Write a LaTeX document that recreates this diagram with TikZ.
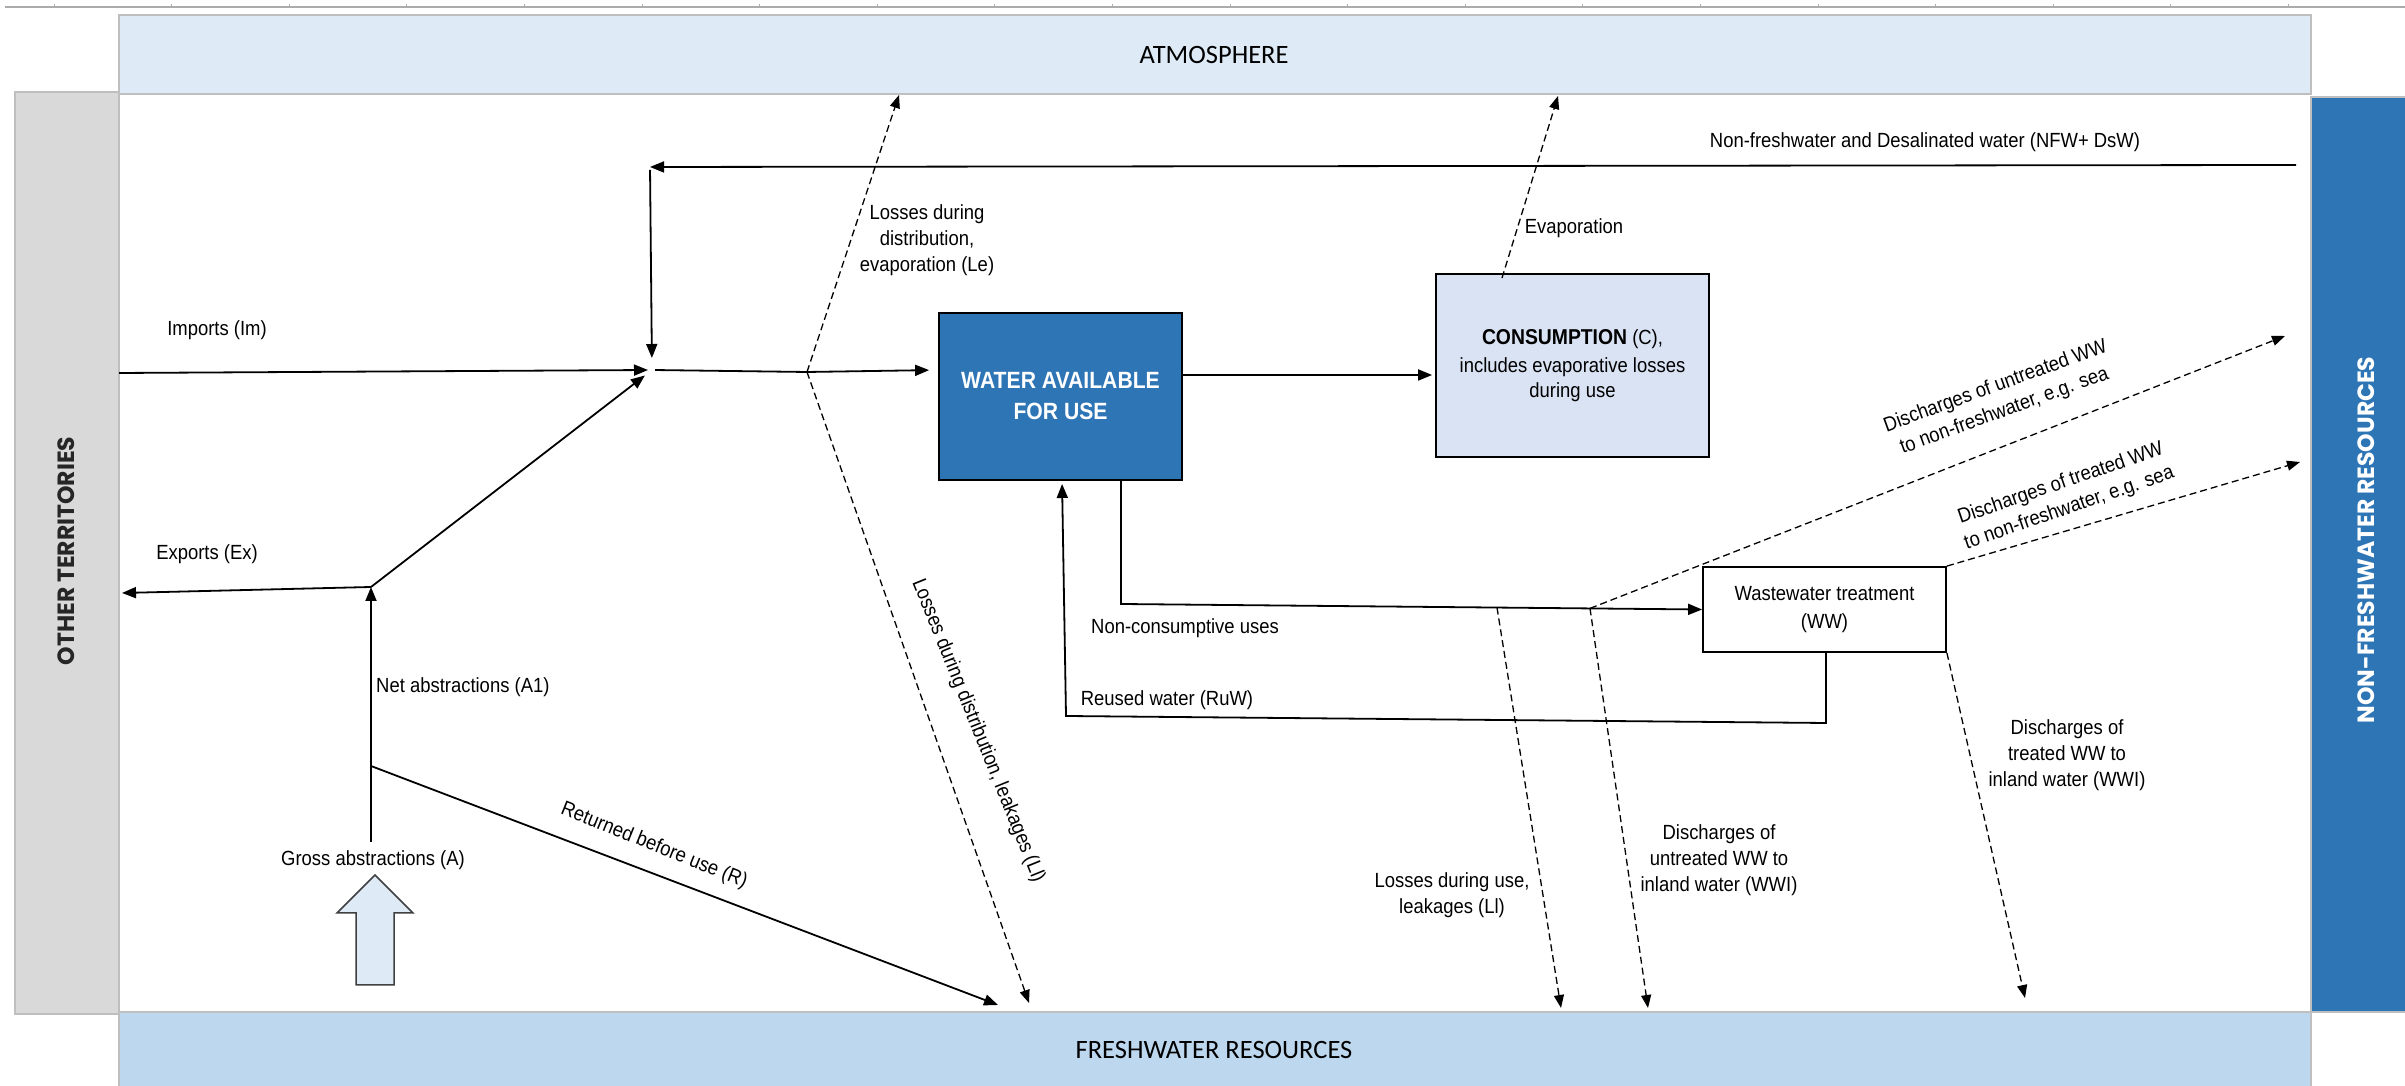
\documentclass[tikz,border=0pt]{standalone}
\usepackage{fontspec}
\setmainfont{Liberation Sans}[FakeStretch=0.9]
\newfontfamily\atmfont{Carlito}
\newfontfamily\bandfont{Poppins}
\usetikzlibrary{arrows.meta}

\begin{document}
\begin{tikzpicture}[x=1pt,y=1pt,
  lbl/.style={font=\fontsize{20.5}{26}\selectfont,align=center,inner sep=0pt},
  flow/.style={line width=1.8pt,-{Triangle[length=14pt,width=11pt]}},
  loss/.style={line width=1.3pt,dash pattern=on 7pt off 4pt,-{Triangle[length=13pt,width=10pt]}},
  bandlbl/.style={font=\bandfont\bfseries\fontsize{23.5}{28}\selectfont,rotate=90,inner sep=0pt},
  bigbox/.style={draw=black,line width=1.8pt,inner sep=0pt,align=center}]
\definecolor{gridColor}{RGB}{171,171,171}
\definecolor{barColor}{RGB}{191,191,191}
\definecolor{atmColor}{RGB}{222,234,246}
\definecolor{fwColor}{RGB}{189,215,238}
\definecolor{otColor}{RGB}{217,217,217}
\definecolor{nfrColor}{RGB}{46,117,182}
\definecolor{consColor}{RGB}{218,227,243}
\definecolor{edgeColor}{RGB}{64,64,64}
\path[use as bounding box,fill=white] (0,0) rectangle (2405,1086);

\draw[gridColor,line width=2pt] (5,1079) -- (2405,1079);
\foreach \gx in {54,171.6,...,2400}
  \draw[gridColor,line width=1pt] (\gx,1079) -- ++(0,3);

\path[draw=barColor,line width=2pt,fill=atmColor] (119,992) rectangle (2311,1071);
\path[draw=barColor,line width=2pt,fill=otColor] (15,72) rectangle (119,994);
\path[draw=barColor,line width=2pt,fill=fwColor] (119,-2) rectangle (2311,74);
\path[draw=barColor,line width=2pt,fill=nfrColor] (2311,74) rectangle (2410,989);

\node[inner sep=0pt,font=\atmfont\fontsize{26.5}{30}\selectfont] (atm) at (1214,1031) {ATMOSPHERE};
\node[inner sep=0pt,font=\atmfont\fontsize{26.5}{30}\selectfont] (fw) at (1214,36) {FRESHWATER RESOURCES};
\node[bandlbl,text=black!85] (ot) at (66,535) {OTHER TERRITORIES};
\node[bandlbl,text=white] (nfr) at (2366,546) {NON-FRESHWATER RESOURCES};

\node[bigbox,fill=nfrColor,minimum width=243pt,minimum height=167pt,text=white,
  font=\bfseries\fontsize{23.5}{31}\selectfont] (wafu) at (1060.5,689.5) {WATER AVAILABLE\\FOR USE};
\node[bigbox,fill=consColor,minimum width=273pt,minimum height=183pt,
  font=\fontsize{20.5}{25}\selectfont] (cons) at (1572.5,720.5)
  {{\bfseries\fontsize{21.5}{26}\selectfont CONSUMPTION} (C),\\[3pt]includes evaporative losses\\during use};
\node[bigbox,fill=white,minimum width=243pt,minimum height=85pt,
  font=\fontsize{20.5}{28}\selectfont] (wwt) at (1824.5,476.5) {Wastewater treatment\\(WW)};

\path[draw=edgeColor,fill=atmColor,line width=1.5pt] (356,101) -- (356,173) -- (337,173) --
	(375,211) -- (413,173) -- (394,173) -- (394,101) -- cycle;

\coordinate (nfwin) at (2296,921);
\coordinate (jtop) at (650,919);
\coordinate (jn) at (652,716);
\coordinate (imp) at (119,713);
\coordinate (lsplit) at (807,714);
\coordinate (letop) at (899,991);
\coordinate (llbot) at (1029,83);
\coordinate (wc) at (1182,711);
\coordinate (evbot) at (1502,808);
\coordinate (evtop) at (1558,990);
\coordinate (nctop) at (1121,606);
\coordinate (ncbend) at (1121,482);
\coordinate (lu) at (1497,478.4);
\coordinate (ud) at (1590,477.6);
\coordinate (lubot) at (1561,78);
\coordinate (udbot) at (1648,78);
\coordinate (udsea) at (2285,750);
\coordinate (twsea) at (2300,624);
\coordinate (twbot) at (2025,88);
\coordinate (rubend) at (1826,363);
\coordinate (rucorner) at (1066,370);
\coordinate (rutop) at (1062,606);
\coordinate (exj) at (371,499);
\coordinate (exout) at (122,493);
\coordinate (retj) at (371,320);
\coordinate (retbot) at (998,81);

\draw[flow] (nfwin) -- (jtop);
\draw[flow,shorten <=3pt,shorten >=12pt] (jtop) -- (jn);
\draw[flow,shorten >=4pt] (imp) -- (jn);
\draw[flow,shorten >=9pt] (exj) -- (jn);
\draw[flow,shorten <=3pt,shorten >=9pt] (jn) -- (lsplit) -- (wafu.west |- jn);
\draw[loss] (lsplit) -- (letop);
\draw[loss] (lsplit) -- (llbot);
\draw[flow,shorten >=3pt] (wc) -- (wc -| cons.west);
\draw[loss] (evbot) -- (evtop);
\draw[flow] (nctop) -- (ncbend) -- (wwt.west);
\draw[loss] (lu) -- (lubot);
\draw[loss] (ud) -- (udbot);
\draw[loss] (ud) -- (udsea);
\draw[loss] (wwt.north east) -- (twsea);
\draw[loss] (wwt.south east) -- (twbot);
\draw[flow,shorten >=4pt] (wwt.south -| rubend) -- (rubend) -- (rucorner) -- (rutop);

\node[lbl] (ga) at (373,226) {Gross abstractions (A)};
\draw[flow,shorten <=8pt] (ga.north -| exj) -- (exj);
\draw[flow] (exj) -- (exout);
\draw[flow] (retj) -- (retbot);

\node[lbl] (nfwlbl) at (1925,944) {Non-freshwater and Desalinated water (NFW+ DsW)};
\node[lbl] (implbl) at (217,756) {Imports (Im)};
\node[lbl] (lelbl) at (927,846) {Losses during\\distribution,\\evaporation (Le)};
\node[lbl] (evlbl) at (1574,858) {Evaporation};
\node[lbl] (exlbl) at (207,532) {Exports (Ex)};
\node[lbl,anchor=west] (a1lbl) at (376,399) {Net abstractions (A1)};
\node[lbl,rotate=-22] (retlbl) at (654,240) {Returned before use (R)};
\node[lbl,rotate=-68] (lllbl) at (978,355) {Losses during distribution, leakages (Ll)};
\node[lbl] (nclbl) at (1185,458) {Non-consumptive uses};
\node[lbl] (rulbl) at (1167,386) {Reused water (RuW)};
\node[lbl] (lulbl) at (1452,191) {Losses during use,\\leakages (Ll)};
\node[lbl] (udlbl) at (1719,226) {Discharges of\\untreated WW to\\inland water (WWI)};
\node[lbl,rotate=20] (udsealbl) at (2000,687) {Discharges of untreated WW\\to non-freshwater, e.g. sea};
\node[lbl,rotate=19] (twsealbl) at (2065,590) {Discharges of treated WW\\to non-freshwater, e.g. sea};
\node[lbl] (twlbl) at (2067,331) {Discharges of\\treated WW to\\inland water (WWI)};
\end{tikzpicture}
\end{document}
